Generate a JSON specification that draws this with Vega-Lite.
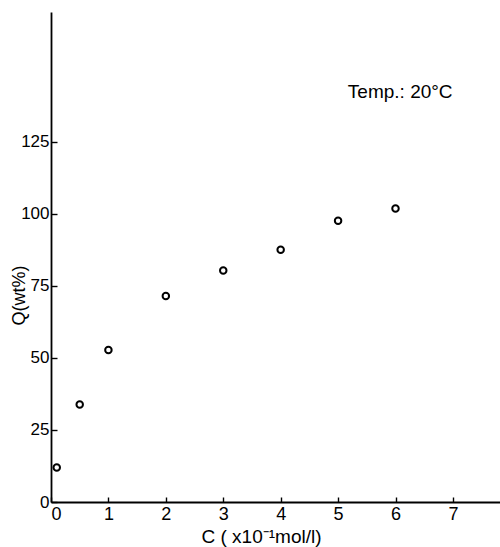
{
  "$schema": "https://vega.github.io/schema/vega-lite/v6.json",
  "autosize": {"type": "none"},
  "padding": {"left": 51, "top": 12, "right": 0, "bottom": 45},
  "width": 449,
  "height": 490,
  "background": "white",
  "config": {
    "view": {"stroke": null},
    "axis": {
      "domainColor": "black",
      "domainWidth": 1.8,
      "tickColor": "black",
      "tickWidth": 1.4,
      "grid": false,
      "labelColor": "black",
      "titleColor": "black",
      "labelFont": "Liberation Sans",
      "titleFont": "Liberation Sans",
      "titleFontWeight": "normal"
    }
  },
  "layer": [
    {
      "data": {"values": [
        {"C": 0.1, "Q": 12},
        {"C": 0.5, "Q": 33.8},
        {"C": 1, "Q": 52.7},
        {"C": 2, "Q": 71.5},
        {"C": 3, "Q": 80.3},
        {"C": 4, "Q": 87.5},
        {"C": 5, "Q": 97.6},
        {"C": 6, "Q": 101.8}
      ]},
      "mark": {"type": "point", "shape": "circle", "filled": false, "color": "black", "opacity": 1, "size": 42, "strokeWidth": 2},
      "encoding": {
        "x": {
          "field": "C", "type": "quantitative",
          "scale": {"domain": [0, 7.82], "nice": false, "zero": false},
          "axis": {
            "values": [0, 1, 2, 3, 4, 5, 6, 7],
            "format": "d",
            "tickSize": -5,
            "labelPadding": 8,
            "labelFontSize": 18,
            "labelOverlap": false,
            "title": "C ( x10⁻¹mol/l)",
            "titleFontSize": 19,
            "titleX": 210,
            "titleY": 40,
            "titleAnchor": null,
            "titleAlign": "center",
            "titleBaseline": "alphabetic"
          }
        },
        "y": {
          "field": "Q", "type": "quantitative",
          "scale": {"domain": [0, 170], "nice": false},
          "axis": {
            "values": [0, 25, 50, 75, 100, 125],
            "format": "d",
            "tickSize": -6,
            "labelPadding": 8,
            "labelFontSize": 17,
            "labelOverlap": false,
            "title": "Q(wt%)",
            "titleFontSize": 18,
            "titleAngle": -90,
            "titleX": -32,
            "titleY": 283,
            "titleAnchor": null,
            "titleAlign": "center",
            "titleBaseline": "middle"
          }
        }
      }
    },
    {
      "mark": {"type": "rule", "color": "black", "strokeWidth": 1.8},
      "encoding": {"y": {"datum": 170}}
    },
    {
      "data": {"values": [{"C": 5.17, "Q": 140.3, "label": "Temp.: 20°C"}]},
      "mark": {"type": "text", "align": "left", "baseline": "alphabetic", "font": "Liberation Sans", "fontSize": 19, "color": "black"},
      "encoding": {
        "x": {"field": "C", "type": "quantitative"},
        "y": {"field": "Q", "type": "quantitative"},
        "text": {"field": "label"}
      }
    }
  ]
}
